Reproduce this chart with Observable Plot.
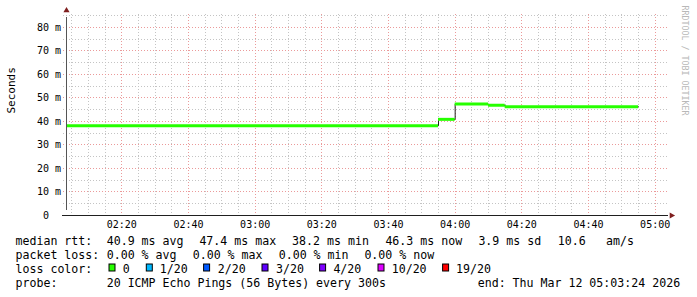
<!DOCTYPE html>
<html>
<head>
<meta charset="utf-8">
<script src="https://cdn.jsdelivr.net/npm/d3@7"></script>
<script src="https://cdn.jsdelivr.net/npm/@observablehq/plot@0.6"></script>
<style>
html, body { margin: 0; padding: 0; background: #fff; }
svg { display: block; }
</style>
</head>
<body>
<div id="chart"></div>
<script>
// ---------------- data ----------------
const graphStart = "2026-03-12T02:03:24Z";
const graphEnd = "2026-03-12T05:03:24Z";
const stepStarts = ["2026-03-12T02:03:24Z", "2026-03-12T03:55:00Z", "2026-03-12T04:00:00Z", "2026-03-12T04:10:00Z", "2026-03-12T04:15:00Z"];
const stepEnds = ["2026-03-12T03:55:00Z", "2026-03-12T04:00:00Z", "2026-03-12T04:10:00Z", "2026-03-12T04:15:00Z", "2026-03-12T04:55:00Z"];
const medianRttMs = [38.2, 40.9, 47.4, 46.9, 46.3];
const yTickValues = [0, 10, 20, 30, 40, 50, 60, 70, 80];
const xTickLabels = ["02:20", "02:40", "03:00", "03:20", "03:40", "04:00", "04:20", "04:40", "05:00"];
const yAxisTitle = "Seconds";
const watermark = "RRDTOOL / TOBI OETIKER";

const rowLabels = ["median rtt:", "packet loss:", "loss color:", "probe:"];
const rttStats = ["40.9 ms avg", "47.4 ms max", "38.2 ms min", "46.3 ms now", "3.9 ms sd", "10.6", "am/s"];
const lossStats = ["0.00 % avg", "0.00 % max", "0.00 % min", "0.00 % now"];
const lossColorLabels = ["0", "1/20", "2/20", "3/20", "4/20", "10/20", "19/20"];
const lossColors = ["#26ff00", "#00b8ff", "#0059ff", "#5e00ff", "#7e00ff", "#dd00ff", "#ff0000"];
const probeText = "20 ICMP Echo Pings (56 Bytes) every 300s";
const endText = "end: Thu Mar 12 05:03:24 2026";

// ---------------- derived ----------------
const start = new Date(graphStart), end = new Date(graphEnd);
const yMax = 85.5;
const segs = stepStarts.map((s, i) => ({t0: new Date(s), t1: new Date(stepEnds[i]), v: medianRttMs[i]}));
const pts = segs.map(d => ({t: d.t0, v: d.v})).concat([{t: segs[segs.length - 1].t1, v: segs[segs.length - 1].v}]);
const majorX = xTickLabels.map(s => new Date(`2026-03-12T${s}:00Z`));
const minorX = d3.utcMinute.every(5).range(start, end).filter(d => d.getUTCMinutes() % 20 !== 0);
const majorY = yTickValues.filter(v => v > 0);
const minorY = d3.range(5, yMax, 5).filter(v => v % 10 !== 0);

const MONO = "'DejaVu Sans Mono', monospace";
const minorGrid = {stroke: "#c4c4c4", strokeDasharray: "1,2", shapeRendering: "crispEdges"};
const majorGrid = {stroke: "#eb9a9a", strokeDasharray: "1,2", shapeRendering: "crispEdges"};

const chart = Plot.plot({
  width: 697,
  height: 232,
  marginLeft: 66,
  marginRight: 31,
  marginTop: 14,
  marginBottom: 17,
  style: {fontFamily: MONO, fontSize: "10px", color: "#000", background: "#fff", overflow: "visible"},
  x: {type: "utc", domain: [start, end]},
  y: {domain: [0, yMax]},
  marks: [
    // minor grid
    Plot.ruleX(minorX, {x: d => d, insetBottom: -2, ...minorGrid}),
    Plot.ruleY(minorY, {y: d => d, insetLeft: -3, insetRight: -2, ...minorGrid}),
    // major grid
    Plot.ruleX(majorX, {x: d => d, insetBottom: -3, ...majorGrid}),
    Plot.ruleY(majorY, {y: d => d, insetLeft: -3, insetRight: -2, ...majorGrid}),
    // median line (dark step line + loss-coloured band)
    Plot.line(pts, {x: "t", y: "v", curve: "step-after", stroke: "#202020", strokeWidth: 1}),
    Plot.ruleY(segs, {y: "v", x1: "t0", x2: "t1", stroke: lossColors[0], strokeWidth: 3}),
    // axes lines
    Plot.ruleY([0], {x1: start, x2: end, stroke: "#1f1f1f", insetLeft: -4, insetRight: -2, shapeRendering: "crispEdges"}),
    Plot.ruleX([start], {y1: 0, y2: yMax, stroke: "#555", insetTop: -5, insetBottom: -3, shapeRendering: "crispEdges"}),
    // arrows
    Plot.dot([{x: start, y: yMax}], {x: "x", y: "y", symbol: "triangle", r: 2.3, fill: "#7f1f1f", stroke: null, dy: -4}),
    Plot.dot([{x: end, y: 0}], {x: "x", y: "y", symbol: "triangle", r: 2.3, fill: "#7f1f1f", stroke: null, rotate: 90, dx: 5}),
    // tick labels
    Plot.axisX(majorX, {tickSize: 0, tickPadding: 5.4, tickFormat: d3.utcFormat("%H:%M"), label: null, fill: "#000"}),
    Plot.axisY(yTickValues, {tickSize: 0, tickPadding: 5.5, tickFormat: d => d === 0 ? "0\u00a0\u00a0" : `${d} m`, label: null, fill: "#000"}),
    // titles
    Plot.text([yAxisTitle], {text: d => d, frameAnchor: "left", rotate: -90, dx: -55.5, dy: -1.5, fontSize: 11, fill: "#000"}),
    Plot.text([watermark], {text: d => d, frameAnchor: "top-right", rotate: 90, textAnchor: "start", dx: 21, dy: -9, fontSize: 8.3, fill: "#b8b8b8"})
  ]
});
document.getElementById("chart").appendChild(chart);

// ---------------- legend (below the plot) ----------------
const L = {
  baselines: [13.3, 27.3, 40.7, 55],
  labelX: 15.5,
  rttX: [106.7, 199.4, 292.1, 385.4, 478.4, 557.7, 606.1],
  lossX: [106.7, 192.7, 278.7, 364.4],
  boxX: [109, 146.3, 203.6, 262, 319.6, 378, 442.6],
  boxY: 32,
  colorLabelX: [122.7, 159.7, 217.7, 276.1, 333.4, 391.7, 456.1],
  probeX: 106.7,
  endX: 477.7
};
const leg = d3.create("svg")
  .attr("width", 697).attr("height", 65)
  .attr("font-family", MONO).attr("font-size", "11.6px").attr("fill", "#000");
rowLabels.forEach((t, i) => leg.append("text").attr("x", L.labelX).attr("y", L.baselines[i]).text(t));
rttStats.forEach((t, i) => leg.append("text").attr("x", L.rttX[i]).attr("y", L.baselines[0]).text(t));
lossStats.forEach((t, i) => leg.append("text").attr("x", L.lossX[i]).attr("y", L.baselines[1]).text(t));
lossColorLabels.forEach((t, i) => {
  leg.append("rect").attr("x", L.boxX[i]).attr("y", L.boxY).attr("width", 6).attr("height", 7)
    .attr("fill", lossColors[i]).attr("stroke", "#000").attr("stroke-width", 1);
  leg.append("text").attr("x", L.colorLabelX[i]).attr("y", L.baselines[2]).text(t);
});
leg.append("text").attr("x", L.probeX).attr("y", L.baselines[3]).text(probeText);
leg.append("text").attr("x", L.endX).attr("y", L.baselines[3]).text(endText);
document.getElementById("chart").appendChild(leg.node());
</script>
</body>
</html>
